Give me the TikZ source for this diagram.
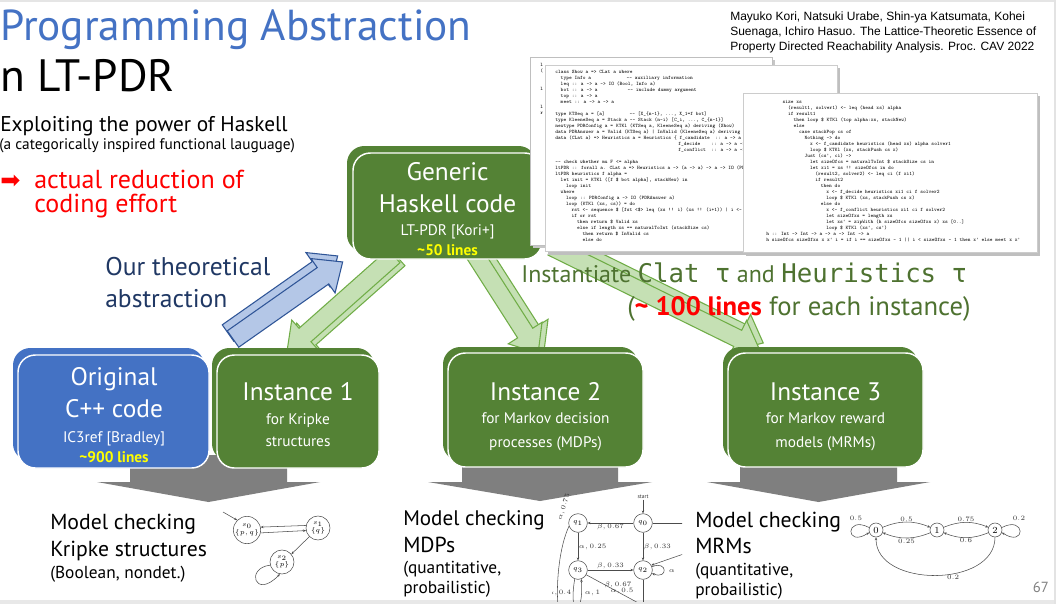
\documentclass[tikz,border=0pt]{standalone}
\usepackage[no-math]{fontspec}
\setmainfont{PT Sans}
\newfontfamily\citefont{Liberation Sans}
\newfontfamily\dmono{DejaVu Sans Mono}
\newfontfamily\dejavu{DejaVu Sans}
\usetikzlibrary{arrows.meta}
\definecolor{ttlblue}{HTML}{4472C4}
\definecolor{boxgreen}{HTML}{548235}
\definecolor{boxblue}{HTML}{4472C4}
\definecolor{navy}{HTML}{203864}
\definecolor{lgreen}{HTML}{C5E0B4}
\definecolor{mgreen}{HTML}{70AD47}
\definecolor{lblue}{HTML}{B4C7E7}
\definecolor{mblue}{HTML}{2F5597}
\definecolor{dgreen}{HTML}{4E7230}
\definecolor{arrgray}{HTML}{7F7F7F}
\definecolor{ylw}{HTML}{FFFF00}
\newcommand\myfs[2]{\fontsize{#1pt}{#2pt}\selectfont}
\newlength\cw
\setlength\cw{2.05pt}
\newcommand\ind[1]{\hspace*{#1\cw}}
% #1 style, #2 x, #3 y, #4 angle, #5 length, #6 shaft half, #7 head half, #8 head length
\newcommand\blockarrow[8]{%
  \begin{scope}[shift={(#2,#3)}, rotate=#4]
    \path[#1] (0,-#6) -- ({#5-#8},-#6) -- ({#5-#8},-#7) -- (#5,0) -- ({#5-#8},#7) -- ({#5-#8},#6) -- (0,#6) -- cycle;
  \end{scope}}
\begin{document}
\begin{tikzpicture}[x=0.75pt,y=-0.75pt,
  txt/.style={inner sep=0pt, anchor=base west},
  ctr/.style={inner sep=0pt, anchor=base},
  gbox/.style={rectangle, rounded corners=13pt, fill=boxgreen, draw=white, line width=1.1pt, inner sep=0pt},
  bbox/.style={rectangle, rounded corners=13pt, fill=boxblue, draw=white, line width=1.1pt, inner sep=0pt},
  garr/.style={fill=lgreen, draw=mgreen, line width=0.8pt, line join=miter},
  barr/.style={fill=lblue, draw=mblue, line width=0.8pt, line join=miter},
  big/.style={text=white, font=\myfs{19}{22}},
  small/.style={text=white, font=\myfs{11.5}{13}},
  lines/.style={text=ylw, font=\bfseries\myfs{11.5}{13}},
  code/.style={inner sep=0pt, align=left, font=\ttfamily\myfs{3.9}{4.5}},
  bot/.style={inner sep=0pt, anchor=base west, font=\myfs{16.3}{18}},
  bots/.style={inner sep=0pt, anchor=base west, font=\myfs{13}{14}},
  st/.style={circle, draw=black!70, line width=0.4pt, inner sep=0pt},
  ed/.style={draw=black!70, line width=0.4pt, -{Stealth[length=2.2pt,width=1.8pt]}},
  lbl/.style={inner sep=0.5pt, font=\myfs{4.2}{4.5}, text=black!80}
]
\useasboundingbox (0,0) rectangle (1056,604);
\fill[white] (0,0) rectangle (1056,604);
% slide frame
\fill[gray!20] (0,0) rectangle (1056,2);
\fill[gray!18] (0,600) rectangle (1056,604);
\fill[gray!22] (1054,0) rectangle (1056,604);

% ---------- gray down arrows ----------
\fill[arrgray] (130,455) -- (287,455) -- (287,482) -- (320,482) -- (208.5,502) -- (97,482) -- (130,482) -- cycle;
\fill[arrgray] (462,455) -- (618,455) -- (618,482) -- (652,482) -- (540,501) -- (428,482) -- (462,482) -- cycle;
\fill[arrgray] (740,455) -- (897,455) -- (897,482) -- (930,482) -- (818.5,502) -- (707,482) -- (740,482) -- cycle;

% ---------- block arrows ----------
\blockarrow{barr}{228}{333}{35.1}{134}{10}{21}{24}
\blockarrow{barr}{233}{339}{35.1}{134}{10}{21}{24}
\blockarrow{garr}{399}{259}{221.6}{143}{9}{20}{24}
\blockarrow{garr}{394}{256}{221.6}{143}{9}{20}{24}
\blockarrow{garr}{480}{250}{-57.4}{119}{9}{20}{24}
\blockarrow{garr}{474}{253}{-57.4}{119}{9}{20}{24}
\blockarrow{garr}{556}{241}{-26.2}{231}{9}{20}{24}
\blockarrow{garr}{552}{247}{-26.2}{231}{9}{20}{24}

% ---------- boxes ----------
\fill[boxblue, rounded corners=13pt] (13,348) rectangle (204,461);
\fill[boxgreen, rounded corners=13pt] (212,348) rectangle (374,461);
\fill[boxgreen, rounded corners=13pt] (443,347) rectangle (638,461);
\fill[boxgreen, rounded corners=13pt] (723,347) rectangle (918,461);
\fill[boxgreen, rounded corners=13pt] (347,146) rectangle (536,252);
\node[bbox, minimum width=143.25pt, minimum height=84.75pt] (orig) at (113.5,411.5) {};
\node[gbox, minimum width=121.5pt, minimum height=84.75pt] (inst1) at (298,411.5) {};
\node[gbox, minimum width=146.25pt, minimum height=85.5pt] (inst2) at (545.5,410) {};
\node[gbox, minimum width=146.25pt, minimum height=85.5pt] (inst3) at (825.5,410) {};
\node[gbox, minimum width=141.75pt, minimum height=79.5pt] (gen) at (447.5,206) {};

% box texts
\node[ctr, big] (gen1) at (447.5,180) {Generic};
\node[ctr, big] (gen2) at (447.5,212) {Haskell code};
\node[ctr, small] (gen3) at (447.5,235) {LT-PDR [Kori+]};
\node[ctr, lines] (gen4) at (447.5,255) {\textasciitilde 50 lines};
\node[ctr, big] (or1) at (114,385) {Original};
\node[ctr, big] (or2) at (114,417) {C++ code};
\node[ctr, small] (or3) at (114,442) {IC3ref [Bradley]};
\node[ctr, lines] (or4) at (114,462) {\textasciitilde 900 lines};
\node[ctr, big] (i11) at (298,400) {Instance 1};
\node[ctr, small] (i12) at (298,424) {for Kripke};
\node[ctr, small] (i13) at (298,446) {structures};
\node[ctr, big] (i21) at (545.5,400) {Instance 2};
\node[ctr, small] (i22) at (545.5,423) {for Markov decision};
\node[ctr, small] (i23) at (545.5,447) {processes (MDPs)};
\node[ctr, big] (i31) at (825.5,400) {Instance 3};
\node[ctr, small] (i32) at (825.5,423) {for Markov reward};
\node[ctr, small] (i33) at (825.5,447) {models (MRMs)};

% ---------- code sheets ----------
\fill[gray!45] (533,60) rectangle (775,248);
\draw[gray!50, fill=white, line width=0.4pt] (530,57) rectangle (772,245);
\node[code, anchor=north west] (code0) at (540,63) {l\\(\\ \\ \\l\\ \\ \\l\\r};
\fill[gray!50] (548,68) rectangle (840,255);
\draw[gray!40, fill=white, line width=0.4pt] (545,65) rectangle (837,251);
\begin{scope}
\clip (545.5,65.5) rectangle (836.5,250.5);
\node[code, anchor=north west] (code1) at (555,69.5) {%
class Show a => CLat a where\\
\ind{2}type Info a\ind{13}-- auxiliary information\\
\ind{2}leq :: a -> a -> IO (Bool, Info a)\\
\ind{2}bot :: a -> a\ind{11}-- include dummy argument\\
\ind{2}top :: a -> a\\
\ind{2}meet :: a -> a -> a\\
\mbox{}\\
type KTSeq a = [a]\ind{9}-- [X\_\{n-1\}, ..., X\_1=f bot]\\
type KleeneSeq a = Stack a -- Stack (n-i) [C\_i, ..., C\_\{n-1\}]\\
newtype PDRConfig a = KTKl (KTSeq a, KleeneSeq a) deriving (Show)\\
data PDRAnswer a = Valid (KTSeq a) | InValid (KleeneSeq a) deriving (Show)\\
data (CLat a) => Heuristics a = Heuristics \{ f\_candidate\ind{2}:: a -> a -> IO a,\\
\ind{45}f\_decide\ind{4}:: a -> a -> IO a,\\
\ind{45}f\_conflict\ind{2}:: a -> a -> IO a \}\\
\mbox{}\\
-- check whether mu F <= alpha\\
ltPDR :: forall a. CLat a => Heuristics a -> (a -> a) -> a -> IO (PDRAnswer a)\\
ltPDR heuristics f alpha =\\
\ind{2}let init = KTKl ([f \$ bot alpha], stackNew) in\\
\ind{4}loop init\\
\ind{2}where\\
\ind{4}loop :: PDRConfig a -> IO (PDRAnswer a)\\
\ind{4}loop (KTKl (xs, cs)) = do\\
\ind{6}rst <- sequence \$ [fst <\$> leq (xs !! i) (xs !! (i+1)) | i <- [0..]]\\
\ind{6}if or rst\\
\ind{8}then return \$ Valid xs\\
\ind{8}else if length xs == naturalToInt (stackSize cs)\\
\ind{10}then return \$ InValid cs\\
\ind{10}else do};
\end{scope}
\fill[gray!50] (746,96) rectangle (1040,256);
\draw[gray!40, fill=white, line width=0.4pt] (743,93) rectangle (1037,252);
\node[code, anchor=north west] (code2) at (766,100) {%
\ind{6}size xs\\
\ind{8}(result1, solver1) <- leq (head xs) alpha\\
\ind{8}if result1\\
\ind{10}then loop \$ KTKl (top alpha:xs, stackNew)\\
\ind{10}else\\
\ind{12}case stackPop cs of\\
\ind{14}Nothing -> do\\
\ind{16}x <- f\_candidate heuristics (head xs) alpha solver1\\
\ind{16}loop \$ KTKl (xs, stackPush cs x)\\
\ind{14}Just (cs', ci) ->\\
\ind{16}let sizeOfcs = naturalToInt \$ stackSize cs in\\
\ind{16}let xi1 = xs !! sizeOfcs in do\\
\ind{18}(result2, solver2) <- leq ci (f xi1)\\
\ind{18}if result2\\
\ind{20}then do\\
\ind{22}x <- f\_decide heuristics xi1 ci f solver2\\
\ind{22}loop \$ KTKl (xs, stackPush cs x)\\
\ind{20}else do\\
\ind{22}x <- f\_conflict heuristics xi1 ci f solver2\\
\ind{22}let sizeOfxs = length xs\\
\ind{22}let xs' = zipWith (h sizeOfcs sizeOfxs x) xs [0..]\\
\ind{22}loop \$ KTKl (xs', cs')\\
h :: Int -> Int -> a -> a -> Int -> a\\
h sizeOfcs sizeOfxs x x' i = if i == sizeOfxs - 1 || i < sizeOfxs - 1 then x' else meet x x'};

% ---------- titles and left texts ----------
\node[txt, text=ttlblue, font=\myfs{32.5}{34}] (title) at (0,40) {Programming Abstraction};
\node[txt, font=\myfs{34}{38}] (title2) at (0,91) {n LT-PDR};
\node[txt, font=\myfs{16}{18}] (expl) at (0,131) {Exploiting the power of Haskell};
\node[txt, font=\myfs{11.5}{13}] (expl2) at (-1,149) {(a categorically inspired functional lauguage)};
\node[txt, text=red, font=\dejavu\myfs{18}{19}] (rarr) at (0,188) {➡};
\node[txt, text=red, font=\myfs{19.5}{21}] (red1) at (34,188) {actual reduction of};
\node[txt, text=red, font=\myfs{19.5}{21}] (red2) at (34,212) {coding effort};
\node[txt, text=navy, font=\myfs{19.2}{21}] (our1) at (105,275) {Our theoretical};
\node[txt, text=navy, font=\myfs{19.2}{21}] (our2) at (105,307) {abstraction};

% citation
\node[txt, font=\citefont\myfs{9}{11}] (cit1) at (730,20) {Mayuko Kori, Natsuki Urabe, Shin-ya Katsumata, Kohei};
\node[txt, font=\citefont\myfs{9}{11}] (cit2) at (730,35) {Suenaga, Ichiro Hasuo. The Lattice-Theoretic Essence of};
\node[txt, font=\citefont\myfs{9}{11}] (cit3) at (730,50) {Property Directed Reachability Analysis. Proc. CAV 2022};

% instantiate
\node[txt, text=dgreen, font=\myfs{18}{20}] (inst) at (521,282) {Instantiate {\dmono\myfs{19.3}{20}Clat τ} and {\dmono\myfs{19.3}{20}Heuristics τ}};
\node[txt, text=dgreen, font=\myfs{20}{22}] (inst2) at (627,315) {({\color{red}\bfseries\textasciitilde{} 100 lines} for each instance)};

% ---------- bottom texts ----------
\node[bot] (k1) at (50,529) {Model checking};
\node[bot] (k2) at (50,556) {Kripke structures};
\node[bots] (k3) at (50,578) {(Boolean, nondet.)};
\node[bot, font=\myfs{15.8}{18}] (d1) at (403,525) {Model checking};
\node[bot] (d2) at (403,552) {MDPs};
\node[bots] (d3) at (403,573) {(quantitative,};
\node[bots] (d4) at (403,593) {probailistic)};
\node[bot] (r1) at (695,527) {Model checking};
\node[bot] (r2) at (695,553) {MRMs};
\node[bots] (r3) at (695,575) {(quantitative,};
\node[bots] (r4) at (695,595) {probailistic)};
\node[inner sep=0pt, anchor=base east, text=gray, font=\myfs{11}{12}] (pg) at (1049,592) {67};

% ---------- Kripke graph ----------
\node[st, minimum size=18pt, align=center, font=\myfs{3}{3.4}] (ka) at (247,530) {$s_0$\\$\{p,q\}$};
\node[st, minimum size=18pt, align=center, font=\myfs{3}{3.4}] (kb) at (318,528) {$s_1$\\$\{q\}$};
\node[st, minimum size=18pt, align=center, font=\myfs{3}{3.4}] (kc) at (282,562) {$s_2$\\$\{p\}$};
\coordinate (kstart) at (223,512);
\draw[ed] (kstart) -- (ka.135);
\draw[ed] (kb.168) -- (ka.12);
\draw[ed] (ka.-12) -- (kb.-168);
\draw[ed] (kb.-135) -- (kc.40);
\draw[ed] (kc.195) .. controls (245,568) and (255,600) .. (kc.-100);

% ---------- MDP graph ----------
\begin{scope}
\clip (552,486) rectangle (682,601);
\node[st, minimum size=14pt, font=\myfs{4}{4}] (q0) at (643,523) {$q_0$};
\node[st, minimum size=14pt, font=\myfs{4}{4}] (q1) at (578,523) {$q_1$};
\node[st, minimum size=14pt, font=\myfs{4}{4}] (q2) at (643,570) {$q_2$};
\node[st, minimum size=14pt, font=\myfs{4}{4}] (q3) at (578,570) {$q_3$};
\node[lbl] (start) at (643,497) {start};
\coordinate (qr) at (700,523);
\coordinate (qin) at (695,550);
\coordinate (ql) at (558,606);
\coordinate (qd) at (655,612);
\coordinate (qv) at (643,612);
\draw[ed] (start) -- (q0);
\draw[ed] (q0) -- node[below, lbl]{$\beta, 0.67$} (q1);
\draw[draw=black!70, line width=0.4pt] (q0) -- (qr);
\draw[ed] (q1) -- node[right, lbl]{$\alpha, 0.25$} (q3);
\draw[ed] (q0) -- node[right, lbl]{$\beta, 0.33$} (q2);
\draw[ed] (q3) -- node[above, lbl]{$\beta, 0.33$} (q2);
\draw[ed] (q2.20) .. controls (668,560) and (668,580) .. (q2.-20);
\node[lbl, anchor=west] (qa) at (668,571) {$\alpha$};
\draw[ed] (qin) -- (q2.30);
\draw[ed] (q1.200) .. controls (560,545) and (556,580) .. (ql);
\draw[ed] (q3.-110) .. controls (568,618) and (584,618) .. (q3.-70);
\node[lbl, anchor=east] (q4) at (572,593) {$\alpha, 0.4$};
\node[lbl, anchor=west] (q1l) at (584,593) {$\alpha, 1$};
\draw[draw=black!70, line width=0.4pt] (q3.-30) -- (qd);
\node[lbl] (q67) at (618,585) {$\beta, 0.67$};
\node[lbl] (q05) at (622,591) {$\alpha, 0.5$};
\draw[draw=black!70, line width=0.4pt] (q2) -- (qv);
\end{scope}
\node[lbl, rotate=72, inner sep=0pt] (q75) at (564,507) {$\alpha, 0.75$};

% ---------- MRM graph ----------
\node[st, minimum size=10.5pt, font=\myfs{7}{7}] (m0) at (876,530) {$0$};
\node[st, minimum size=10.5pt, font=\myfs{7}{7}] (m1) at (937,530) {$1$};
\node[st, minimum size=10.5pt, font=\myfs{7}{7}] (m2) at (995,530) {$2$};
\draw[ed] (m0) to[bend left=22] node[above, lbl]{$0.5$} (m1);
\draw[ed] (m1) to[bend left=22] node[below, lbl]{$0.25$} (m0);
\draw[ed] (m1) to[bend left=22] node[above, lbl]{$0.75$} (m2);
\draw[ed] (m2) to[bend left=22] node[below, lbl]{$0.6$} (m1);
\draw[ed] (m2.-90) .. controls (995,588) and (876,588) .. node[pos=0.4, below, lbl]{$0.2$} (m0.-90);
\draw[ed] (m0.160) .. controls (845,515) and (845,548) .. (m0.200);
\draw[ed] (m2.20) .. controls (1026,515) and (1026,548) .. (m2.-20);
\node[lbl] (l05) at (856,518) {$0.5$};
\node[lbl] (l02) at (1019,518) {$0.2$};
\end{tikzpicture}
\end{document}
